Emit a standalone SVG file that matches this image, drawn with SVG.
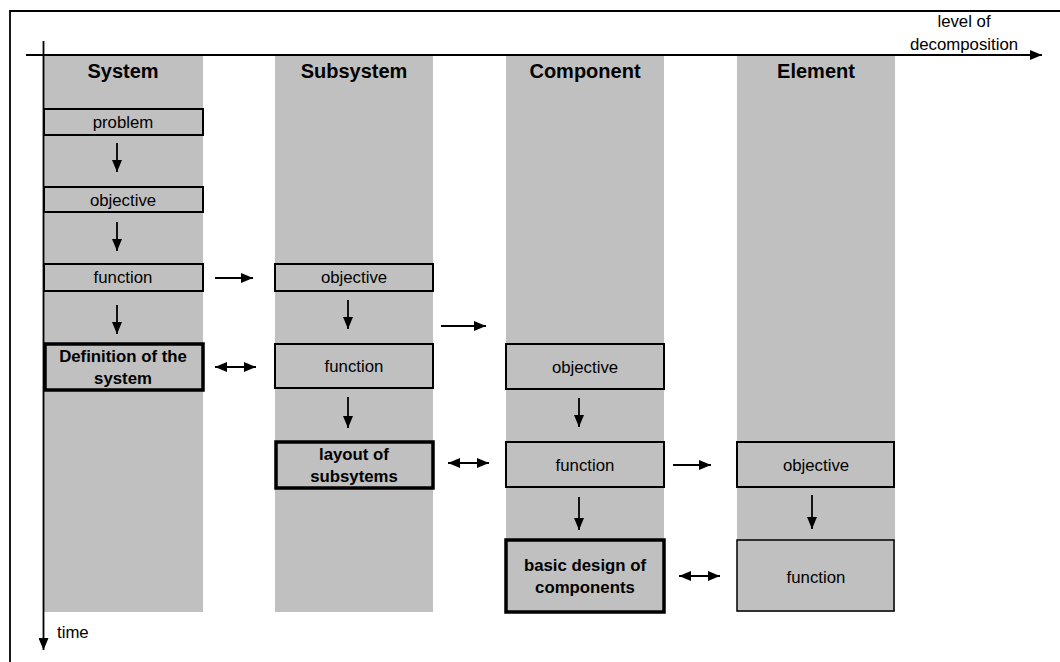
<svg xmlns="http://www.w3.org/2000/svg" width="1060" height="662" viewBox="0 0 1060 662">
<style>
.col{fill:#c0c0c0}
.box{fill:#c0c0c0;stroke:#000;stroke-width:2}
.bbox{fill:#c0c0c0;stroke:#000;stroke-width:3.5}
.t{font-family:"Liberation Sans",Arial,sans-serif;font-size:16.8px;fill:#000;text-anchor:middle}
.b{font-family:"Liberation Sans",Arial,sans-serif;font-size:16.8px;font-weight:bold;fill:#000;text-anchor:middle}
.h{font-family:"Liberation Sans",Arial,sans-serif;font-size:20px;font-weight:bold;fill:#000;text-anchor:middle}
.ln{stroke:#000;stroke-width:1.8;fill:none}
</style>
<defs>
<marker id="ah" viewBox="0 0 12 10" refX="12" refY="5" markerWidth="12" markerHeight="10" markerUnits="userSpaceOnUse" orient="auto-start-reverse">
<path d="M0,0 L12,5 L0,10 z" fill="#000"/>
</marker>
</defs>
<rect width="1060" height="662" fill="#fff"/>
<path d="M10,662 V11 H1060" class="ln" stroke-width="2"/>
<g id="columns">
<rect class="col" x="44" y="55" width="159" height="557"/>
<rect class="col" x="275" y="55" width="158" height="557"/>
<rect class="col" x="506" y="55" width="158" height="557"/>
<rect class="col" x="737" y="55" width="158" height="557"/>
<text class="h" x="123" y="78">System</text>
<text class="h" x="354" y="78">Subsystem</text>
<text class="h" x="585" y="78">Component</text>
<text class="h" x="816" y="78">Element</text>
</g>
<g id="axes">
<line class="ln" x1="26" y1="55" x2="1042" y2="55" marker-end="url(#ah)"/>
<line class="ln" x1="43.5" y1="41" x2="43.5" y2="650" marker-end="url(#ah)"/>
<text class="t" x="964" y="27">level of</text>
<text class="t" x="964" y="50">decomposition</text>
<text class="t" x="57" y="638" style="text-anchor:start">time</text>
</g>
<g id="sys-problem"><rect class="box" x="44" y="109" width="159" height="26"/><text class="t" x="123" y="128">problem</text></g>
<g id="sys-objective"><rect class="box" x="44" y="187" width="159" height="25"/><text class="t" x="123" y="206">objective</text></g>
<g id="sys-function"><rect class="box" x="44" y="264" width="159" height="27"/><text class="t" x="123" y="283">function</text></g>
<g id="sys-definition"><rect class="bbox" x="45" y="344" width="158" height="46"/><text class="b" x="123" y="362">Definition of the</text><text class="b" x="123" y="384">system</text></g>
<g id="sub-objective"><rect class="box" x="275" y="264" width="158" height="27"/><text class="t" x="354" y="283">objective</text></g>
<g id="sub-function"><rect class="box" x="275" y="344" width="158" height="44"/><text class="t" x="354" y="372">function</text></g>
<g id="sub-layout"><rect class="bbox" x="276" y="442" width="157" height="46"/><text class="b" x="354" y="460">layout of</text><text class="b" x="354" y="482">subsytems</text></g>
<g id="comp-objective"><rect class="box" x="506" y="344" width="158" height="45"/><text class="t" x="585" y="373">objective</text></g>
<g id="comp-function"><rect class="box" x="506" y="442" width="158" height="45"/><text class="t" x="585" y="471">function</text></g>
<g id="comp-basic"><rect class="bbox" x="506" y="540" width="158" height="72"/><text class="b" x="585" y="571">basic design of</text><text class="b" x="585" y="593">components</text></g>
<g id="elem-objective"><rect class="box" x="737" y="442" width="157" height="45"/><text class="t" x="816" y="471">objective</text></g>
<g id="elem-function"><rect class="box" x="737" y="540" width="157" height="71" style="stroke-width:1.5"/><text class="t" x="816" y="583">function</text></g>
<g id="connectors">
<line class="ln" x1="117" y1="143" x2="117" y2="172" marker-end="url(#ah)"/>
<line class="ln" x1="117" y1="222" x2="117" y2="251" marker-end="url(#ah)"/>
<line class="ln" x1="117" y1="305" x2="117" y2="334" marker-end="url(#ah)"/>
<line class="ln" x1="348" y1="300" x2="348" y2="329" marker-end="url(#ah)"/>
<line class="ln" x1="348" y1="397" x2="348" y2="428" marker-end="url(#ah)"/>
<line class="ln" x1="579" y1="398" x2="579" y2="427" marker-end="url(#ah)"/>
<line class="ln" x1="579" y1="497" x2="579" y2="530" marker-end="url(#ah)"/>
<line class="ln" x1="812" y1="495" x2="812" y2="529" marker-end="url(#ah)"/>
<line class="ln" x1="215" y1="278" x2="253" y2="278" marker-end="url(#ah)"/>
<line class="ln" x1="215" y1="367" x2="256" y2="367" marker-start="url(#ah)" marker-end="url(#ah)"/>
<line class="ln" x1="441" y1="326" x2="486" y2="326" marker-end="url(#ah)"/>
<line class="ln" x1="448" y1="463" x2="489" y2="463" marker-start="url(#ah)" marker-end="url(#ah)"/>
<line class="ln" x1="673" y1="465" x2="711" y2="465" marker-end="url(#ah)"/>
<line class="ln" x1="679" y1="576" x2="720" y2="576" marker-start="url(#ah)" marker-end="url(#ah)"/>
</g>
</svg>
